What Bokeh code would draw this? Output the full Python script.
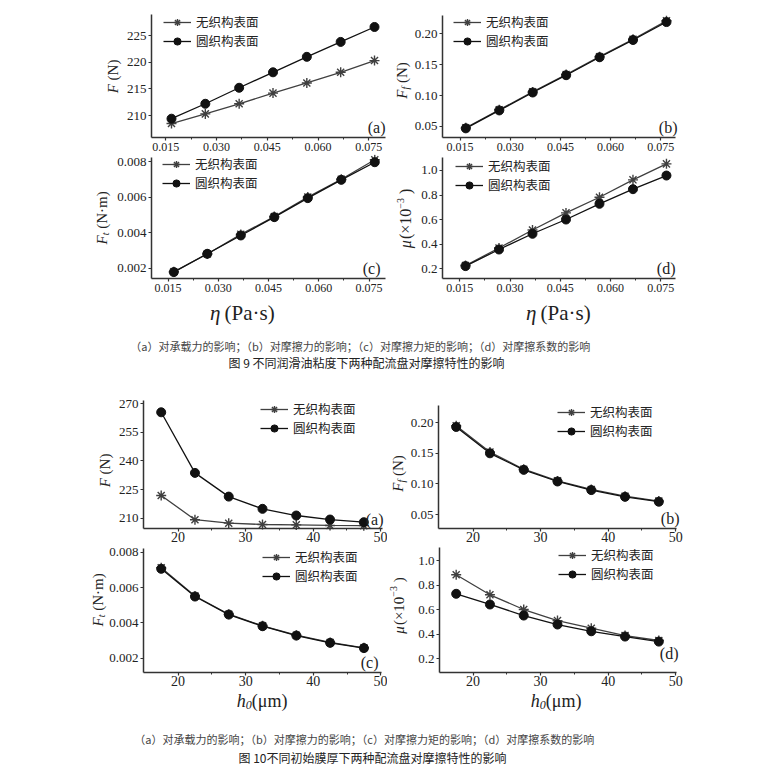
import math
from bokeh.plotting import figure
from bokeh.models import (Range1d, FixedTicker, NumeralTickFormatter, Legend,
                          LegendItem, Label)
from bokeh.layouts import column, row
from bokeh.embed import file_html
from bokeh.resources import INLINE

# ---------------- data ----------------
series_names = ["无织构表面", "圆织构表面"]

eta = [0.0167, 0.0267, 0.0367, 0.0467, 0.0567, 0.0667, 0.0767]
F9_plain = [208.5, 210.3, 212.2, 214.2, 216.1, 218.1, 220.3]
F9_circle = [209.4, 212.2, 215.2, 218.1, 221.0, 223.8, 226.6]
Ff9_plain = [0.048, 0.077, 0.106, 0.134, 0.163, 0.191, 0.221]
Ff9_circle = [0.047, 0.076, 0.105, 0.133, 0.162, 0.190, 0.219]
Ft9_plain = [0.0018, 0.0028, 0.0039, 0.0049, 0.0060, 0.0070, 0.0081]
Ft9_circle = [0.00178, 0.00281, 0.00384, 0.00487, 0.00594, 0.00697, 0.00796]
mu9_plain = [0.227, 0.369, 0.516, 0.655, 0.782, 0.924, 1.054]
mu9_circle = [0.222, 0.357, 0.485, 0.601, 0.729, 0.848, 0.959]

h0 = [17.5, 22.5, 27.5, 32.5, 37.5, 42.5, 47.5]
F10_plain = [221.9, 209.2, 207.4, 206.7, 206.5, 206.2, 206.1]
F10_circle = [265.4, 233.7, 221.3, 214.9, 211.4, 209.3, 207.9]
Ff10_plain = [0.195, 0.152, 0.124, 0.105, 0.091, 0.080, 0.072]
Ff10_circle = [0.193, 0.150, 0.123, 0.104, 0.090, 0.079, 0.071]
Ft10_plain = [0.00712, 0.00552, 0.00449, 0.00383, 0.00330, 0.00289, 0.00259]
Ft10_circle = [0.00706, 0.00549, 0.00447, 0.00381, 0.00328, 0.00287, 0.00257]
mu10_plain = [0.884, 0.721, 0.601, 0.511, 0.449, 0.389, 0.349]
mu10_circle = [0.729, 0.642, 0.552, 0.479, 0.424, 0.381, 0.340]

eta_ticks = [0.015, 0.030, 0.045, 0.060, 0.075]
h0_ticks = [20, 30, 40, 50]
F9_ticks = [210, 215, 220, 225]
F10_ticks = [210, 225, 240, 255, 270]
Ff_ticks = [0.05, 0.10, 0.15, 0.20]
Ft_ticks = [0.002, 0.004, 0.006, 0.008]
mu_ticks = [0.2, 0.4, 0.6, 0.8, 1.0]

panel_tags = ["(a)", "(b)", "(c)", "(d)"]
caption_sub = "（a）对承载力的影响；（b）对摩擦力的影响；（c）对摩擦力矩的影响；（d）对摩擦系数的影响"
caption9 = "图 9 不同润滑油粘度下两种配流盘对摩擦特性的影响"
caption10 = "图 10不同初始膜厚下两种配流盘对摩擦特性的影响"

# ---------------- style ----------------
SERIF = "Liberation Serif"
CJK = "Noto Sans CJK SC"
INK = "#222222"
PLAIN_COLOR = "#404040"
CIRCLE_COLOR = "#111111"
NB = "\u00a0"

W_REG = {' ': 0.25, NB: 0.25, '(': 0.333, ')': 0.333, 'N': 0.722, 'm': 0.778, '·': 0.25,
         'P': 0.556, 'a': 0.444, 's': 0.389, '×': 0.564, '−': 0.564, 'μ': 0.576,
         'η': 0.5}
W_IT = {'F': 0.611, 'f': 0.278, 't': 0.278, 'h': 0.5, 'μ': 0.576, 'η': 0.5}


def tw(s, size, italic):
    if s is None:
        return size
    table = W_IT if italic else W_REG
    return sum(table.get(c, 0.5) for c in s) * size


def rich(p, fig_box, pieces, cx_page, cy_page, vertical):
    """Place a title made of styled pieces; shift > 0 raises a piece."""
    x0, y0, x1, y1 = fig_box
    cx = cx_page - x0
    cy = y1 - cy_page
    total = sum(tw(s, sz, it) for s, sz, it, sh in pieces)
    pos = -total / 2.0
    for s, sz, it, sh in pieces:
        if s is None:
            pos += sz
            continue
        if vertical:
            x = cx - sh
            y = cy + pos
            ang = math.pi / 2
        else:
            x = cx + pos
            y = cy + sh
            ang = 0
        p.add_layout(Label(x=x, y=y, x_units="screen", y_units="screen", text=s,
                           angle=ang, text_align="left", text_baseline="middle",
                           text_font=SERIF, text_font_size=f"{sz}px",
                           text_font_style="italic" if it else "normal",
                           text_color=INK))
        pos += tw(s, sz, it)


def panel(fig_box, frame, xr, yr, xs, ys_plain, ys_circle, xticks, yticks,
          xfmt, yfmt, xsize, xstand, legend_at, tag, tag_at, ytitle, ytitle_at,
          xtitle=None, xtitle_at=None):
    x0, y0, x1, y1 = fig_box
    l, t, r, b = frame
    sx = (xr[1] - xr[0]) / (r - l)
    sy = (yr[1] - yr[0]) / (b - t)
    X0 = xr[0] - (l - x0) * sx
    X1 = xr[1] + (x1 - r) * sx
    Y0 = yr[0] - (y1 - b) * sy
    Y1 = yr[1] + (t - y0) * sy
    p = figure(width=x1 - x0, height=y1 - y0, x_range=Range1d(X0, X1),
               y_range=Range1d(Y0, Y1), output_backend="svg", toolbar_location=None,
               min_border=0)
    p.grid.visible = False
    p.outline_line_color = None
    p.background_fill_color = "white"
    p.border_fill_color = "white"
    for ax in (p.xaxis[0], p.yaxis[0]):
        ax.axis_line_color = "#333333"
        ax.axis_line_width = 1.5
        ax.major_tick_line_color = "#333333"
        ax.major_tick_line_width = 1.2
        ax.major_tick_out = 3
        ax.major_tick_in = 0
        ax.minor_tick_line_color = "#333333"
        ax.minor_tick_out = 2
        ax.minor_tick_in = 0
        ax.major_label_text_font = SERIF
        ax.major_label_text_color = INK
        ax.major_label_standoff = 2
    p.xaxis[0].major_label_standoff = xstand
    p.xaxis[0].fixed_location = yr[0]
    p.xaxis[0].bounds = xr
    p.yaxis[0].fixed_location = xr[0]
    p.yaxis[0].bounds = yr
    mids = [(xticks[i] + xticks[i + 1]) / 2 for i in range(len(xticks) - 1)]
    p.xaxis[0].ticker = FixedTicker(ticks=xticks, minor_ticks=mids)
    p.yaxis[0].ticker = FixedTicker(ticks=yticks, minor_ticks=[])
    p.xaxis[0].formatter = NumeralTickFormatter(format=xfmt)
    p.yaxis[0].formatter = NumeralTickFormatter(format=yfmt)
    p.xaxis[0].major_label_text_font_size = f"{xsize}px"
    p.yaxis[0].major_label_text_font_size = "13px"

    l1 = p.line(xs, ys_plain, line_color=PLAIN_COLOR, line_width=1.3)
    s1 = p.scatter(xs, ys_plain, marker="asterisk", size=10, line_color=PLAIN_COLOR,
                   line_width=1.4)
    l2 = p.line(xs, ys_circle, line_color=CIRCLE_COLOR, line_width=1.3)
    s2 = p.scatter(xs, ys_circle, marker="circle", size=9, fill_color=CIRCLE_COLOR,
                   line_color=CIRCLE_COLOR)

    RH = 18
    gx, gy = legend_at
    leg = Legend(items=[LegendItem(label=series_names[0], renderers=[l1, s1]),
                        LegendItem(label=series_names[1], renderers=[l2, s2])],
                 location=(gx - x0, y1 - (gy - RH / 2 + 2 * RH)),
                 border_line_color=None, background_fill_alpha=0,
                 padding=0, margin=0, spacing=0, glyph_width=28, glyph_height=RH,
                 label_height=RH, label_standoff=5, label_text_font=CJK,
                 label_text_font_size="12.5px", label_text_color=INK,
                 label_text_baseline="middle")
    p.add_layout(leg)

    tx, ty = tag_at
    p.add_layout(Label(x=tx - x0, y=y1 - ty, x_units="screen", y_units="screen",
                       text=tag, text_align="right", text_baseline="middle",
                       text_font=SERIF, text_font_size="16px", text_color=INK))
    rich(p, fig_box, ytitle, ytitle_at[0], ytitle_at[1], True)
    if xtitle is not None:
        rich(p, fig_box, xtitle, xtitle_at[0], xtitle_at[1], False)
    return p


T_F = [("F", 15, True, 0), (NB + "(N)", 15, False, 0)]
T_Ff = [("F", 15, True, 0), ("f", 10, True, -4), (NB + "(N)", 15, False, 0)]
T_Ft = [("F", 15, True, 0), ("t", 10, True, -4), (NB + "(N·m)", 15, False, 0)]
T_mu = [("μ", 16, True, 0), ("(×10", 16, False, 0), ("−3", 10, False, 5),
        (NB + ")", 16, False, 0)]
T_mu_s = [("μ", 15, True, 0), ("(×10", 15, False, 0), ("−3", 10, False, 5),
          (NB + ")", 15, False, 0)]
T_eta = [("η", 21, True, 0), (None, 4, False, 0), ("(Pa·s)", 21, False, 0)]
T_h0 = [("h", 18, True, 0), ("0", 12, True, -4), ("(μm)", 18, False, 0)]

# ---- Figure 9 ----
p9a = panel((0, 0, 390, 154), (151, 14, 385, 137), (0.01079, 0.07995), (205.875, 228.94),
            eta, F9_plain, F9_circle, eta_ticks, F9_ticks, "0.000", "0", 12, 2,
            (163, 23), panel_tags[0], (385, 127), T_F, (112, 76))
p9b = panel((390, 0, 764, 154), (442, 15, 675, 137), (0.00973, 0.0794), (0.0322, 0.2296),
            eta, Ff9_plain, Ff9_circle, eta_ticks, Ff_ticks, "0.000", "0.00", 12, 2,
            (453, 23), panel_tags[1], (677, 127), T_Ff, (401, 80))
p9c = panel((0, 154, 390, 328), (151, 157, 385, 278), (0.01004, 0.0799), (0.00142, 0.008225),
            eta, Ft9_plain, Ft9_circle, eta_ticks, Ft_ticks, "0.000", "0.000", 12, 2,
            (162, 165), panel_tags[2], (380, 268), T_Ft, (101, 218), T_eta, (241, 312))
p9d = panel((390, 154, 764, 328), (442, 157, 675, 278), (0.00983, 0.0794), (0.121, 1.1058),
            eta, mu9_plain, mu9_circle, eta_ticks, mu_ticks, "0.000", "0.0", 12, 2,
            (455, 167), panel_tags[3], (675, 268), T_mu, (405, 218), T_eta, (557, 312))

# ---- Figure 10 ----
p10a = panel((0, 380, 387, 545), (143, 400, 382, 528), (14.88, 50.27), (204.61, 271.57),
             h0, F10_plain, F10_circle, h0_ticks, F10_ticks, "0", "0", 14, 0,
             (260, 410), panel_tags[0], (383, 519), T_F, (104, 470))
p10b = panel((387, 380, 764, 545), (438, 405, 676, 528), (14.88, 50.12), (0.0273, 0.228),
             h0, Ff10_plain, Ff10_circle, h0_ticks, Ff_ticks, "0", "0.00", 14, 0,
             (557, 413), panel_tags[1], (679, 518), T_Ff, (397, 473))
p10c = panel((0, 545, 387, 722), (143, 548, 381, 672), (14.88, 50.1), (0.00119, 0.00821),
             h0, Ft10_plain, Ft10_circle, h0_ticks, Ft_ticks, "0", "0.000", 14, 0,
             (262, 558), panel_tags[2], (378, 662), T_Ft, (97, 600), T_h0, (262, 700))
p10d = panel((387, 545, 764, 722), (439, 547, 676, 672), (15.03, 50.12), (0.0885, 1.1058),
             h0, mu10_plain, mu10_circle, h0_ticks, mu_ticks, "0", "0.0", 14, 0,
             (558, 556), panel_tags[3], (678, 653), T_mu_s, (398, 605), T_h0, (556, 700))


def caption(y_top, height, sub, main, y_sub, y_main, cx_sub, cx_main):
    c = figure(width=764, height=height, x_range=Range1d(0, 1), y_range=Range1d(0, 1),
               output_backend="svg", toolbar_location=None, min_border=0,
               x_axis_location=None, y_axis_location=None)
    c.grid.visible = False
    c.outline_line_color = None
    c.add_layout(Label(x=cx_sub, y=y_top + height - y_sub, x_units="screen",
                       y_units="screen", text=sub, text_align="center",
                       text_baseline="middle", text_font=CJK, text_font_size="11px",
                       text_color="#444444"))
    c.add_layout(Label(x=cx_main, y=y_top + height - y_main, x_units="screen",
                       y_units="screen", text=main, text_align="center",
                       text_baseline="middle", text_font=CJK, text_font_size="12px",
                       text_color="#222222"))
    return c


cap9 = caption(328, 52, caption_sub, caption9, 345, 362, 368, 366)
cap10 = caption(722, 50, caption_sub, caption10, 738, 757, 372, 372)

layout = column(row(p9a, p9b), row(p9c, p9d), cap9,
                row(p10a, p10b), row(p10c, p10d), cap10)

open("out.html", "w").write(file_html(layout, INLINE))
